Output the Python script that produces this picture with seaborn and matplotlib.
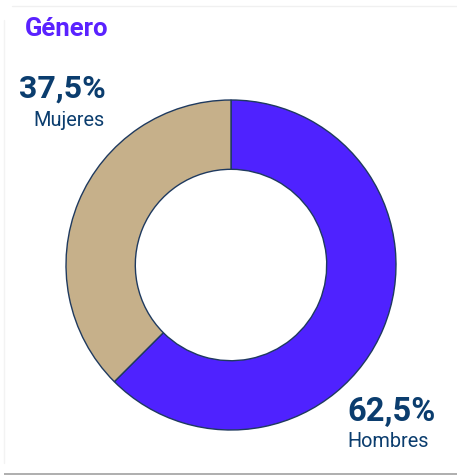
import matplotlib
matplotlib.use("Agg")
import matplotlib.pyplot as plt
import seaborn as sns
from matplotlib.patches import Rectangle

categories = ["Hombres", "Mujeres"]
values = [62.5, 37.5]
pct_labels = ["62,5%", "37,5%"]
title = "Género"

sns.set_theme(style="white")
plt.rcParams['font.family'] = ['Roboto', 'DejaVu Sans']

W, H = 457, 475
fig = plt.figure(figsize=(W / 100, H / 100), dpi=100)
fig.patch.set_facecolor("white")
ax = fig.add_axes([0, 0, 1, 1])
ax.set_xlim(0, W)
ax.set_ylim(0, H)
ax.set_aspect("equal")
ax.axis("off")

colors = ["#4F22FF", "#C6B08A"]
edge = "#1F3A5F"
cx, cy, R = 231, H - 265, 165
ax.pie(values, colors=colors, startangle=90, counterclock=False,
       center=(cx, cy), radius=R, frame=True,
       wedgeprops=dict(width=R * 0.42, edgecolor=edge, linewidth=1.0))
ax.set_xlim(0, W)
ax.set_ylim(0, H)
ax.axis("off")

text_col = "#0B3D6E"
ax.text(25, H - 36, title, fontsize=18.5, fontweight="bold", color="#5A22FF",
        ha="left", va="baseline")
ax.text(106, H - 98, pct_labels[1], fontsize=23, fontweight="bold",
        color=text_col, ha="right", va="baseline")
ax.text(105, H - 126, categories[1], fontsize=14.3, color=text_col,
        ha="right", va="baseline")
ax.text(347, H - 421, pct_labels[0], fontsize=23.5, fontweight="bold",
        color=text_col, ha="left", va="baseline")
ax.text(347, H - 447, categories[0], fontsize=14.3, color=text_col,
        ha="left", va="baseline")

# card edges
ax.plot([12, W], [H - 6, H - 6], color="#F0F0F0", lw=1)
ax.plot([4, 4], [12, H - 20], color="#F3F3F3", lw=1)
ax.add_patch(Rectangle((4, 0), W - 4, 2, color="#B0B0B0", lw=0))

fig.savefig("out.png", dpi=100)
